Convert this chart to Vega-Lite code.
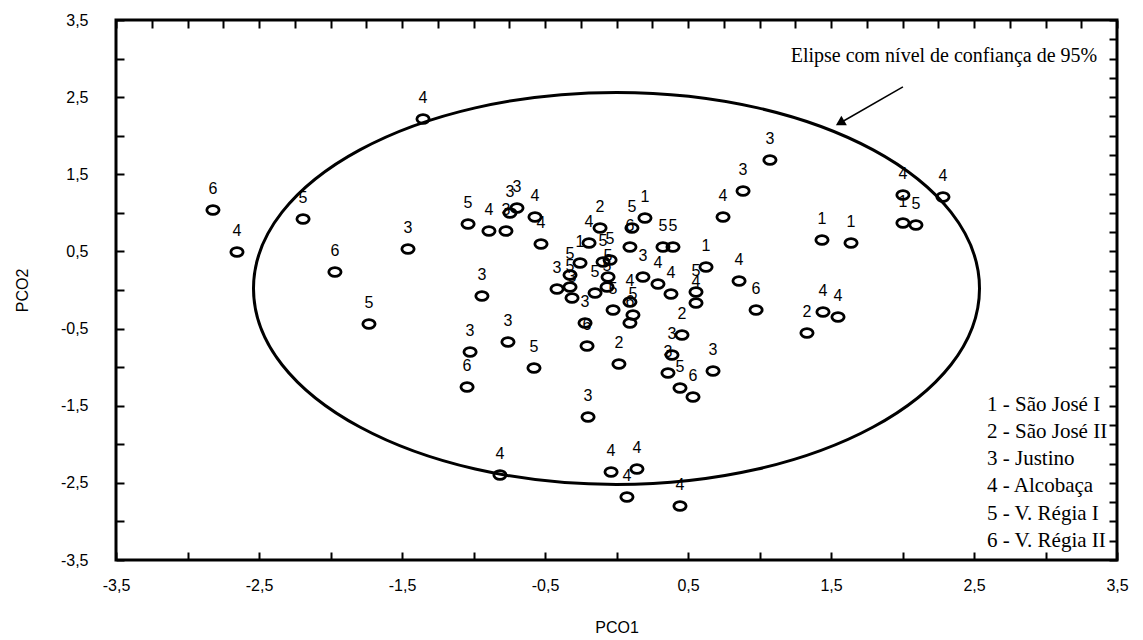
{
  "$schema": "https://vega.github.io/schema/vega-lite/v6.json",
  "width": 1001,
  "height": 540,
  "autosize": {"type": "none"},
  "padding": {"left": 116, "top": 20, "right": 26, "bottom": 80},
  "background": "white",
  "config": {
    "view": {"stroke": "black", "strokeWidth": 3},
    "axis": {
      "grid": false,
      "domain": false,
      "ticks": true,
      "zindex": 1,
      "offset": -8,
      "tickColor": "#000000",
      "tickOpacity": 1,
      "tickWidth": 2,
      "tickSize": 8,
      "labelColor": "black",
      "labelFont": "Liberation Sans",
      "labelFontSize": 16,
      "labelOverlap": false,
      "labelFlush": false,
      "titleFont": "Liberation Sans",
      "titleFontSize": 16,
      "titleFontWeight": "normal",
      "titleColor": "black"
    }
  },
  "datasets": {
    "pts": [
      {"x": -2.822, "y": 1.037, "g": "6"},
      {"x": -2.654, "y": 0.493, "g": "4"},
      {"x": -2.192, "y": 0.92, "g": "5"},
      {"x": -1.969, "y": 0.233, "g": "6"},
      {"x": -1.731, "y": -0.441, "g": "5"},
      {"x": -1.458, "y": 0.531, "g": "3"},
      {"x": -1.353, "y": 2.217, "g": "4"},
      {"x": -1.038, "y": 0.856, "g": "5"},
      {"x": -0.892, "y": 0.765, "g": "4"},
      {"x": -0.773, "y": 0.765, "g": "3"},
      {"x": -0.745, "y": 0.998, "g": "3"},
      {"x": -0.696, "y": 1.063, "g": "3"},
      {"x": -0.57, "y": 0.946, "g": "4"},
      {"x": -0.528, "y": 0.596, "g": "4"},
      {"x": -0.941, "y": -0.078, "g": "3"},
      {"x": -0.759, "y": -0.674, "g": "3"},
      {"x": -1.024, "y": -0.804, "g": "3"},
      {"x": -1.045, "y": -1.257, "g": "6"},
      {"x": -0.577, "y": -1.011, "g": "5"},
      {"x": -0.815, "y": -2.398, "g": "4"},
      {"x": -0.416, "y": 0.013, "g": "3"},
      {"x": -0.325, "y": 0.194, "g": "5"},
      {"x": -0.255, "y": 0.35, "g": "1"},
      {"x": -0.325, "y": 0.039, "g": "5"},
      {"x": -0.311, "y": -0.104, "g": "3"},
      {"x": -0.15, "y": -0.039, "g": "5"},
      {"x": -0.192, "y": 0.609, "g": "4"},
      {"x": -0.115, "y": 0.804, "g": "2"},
      {"x": -0.094, "y": 0.363, "g": "5"},
      {"x": -0.045, "y": 0.389, "g": "5"},
      {"x": -0.059, "y": 0.169, "g": "5"},
      {"x": -0.066, "y": 0.039, "g": "5"},
      {"x": -0.024, "y": -0.259, "g": "5"},
      {"x": 0.108, "y": 0.804, "g": "5"},
      {"x": 0.199, "y": 0.933, "g": "1"},
      {"x": 0.094, "y": 0.557, "g": "6"},
      {"x": 0.185, "y": 0.169, "g": "3"},
      {"x": 0.094, "y": -0.156, "g": "4"},
      {"x": 0.115, "y": -0.324, "g": "5"},
      {"x": 0.094, "y": -0.428, "g": "6"},
      {"x": 0.29, "y": 0.078, "g": "4"},
      {"x": 0.381, "y": -0.052, "g": "4"},
      {"x": 0.325, "y": 0.557, "g": "5"},
      {"x": 0.395, "y": 0.557, "g": "5"},
      {"x": 0.626, "y": 0.298, "g": "1"},
      {"x": 0.556, "y": -0.026, "g": "5"},
      {"x": 0.556, "y": -0.169, "g": "4"},
      {"x": 0.458, "y": -0.583, "g": "2"},
      {"x": 0.388, "y": -0.843, "g": "3"},
      {"x": 0.36, "y": -1.076, "g": "3"},
      {"x": 0.444, "y": -1.27, "g": "5"},
      {"x": 0.535, "y": -1.387, "g": "6"},
      {"x": 0.675, "y": -1.05, "g": "3"},
      {"x": 0.857, "y": 0.117, "g": "4"},
      {"x": 0.976, "y": -0.259, "g": "6"},
      {"x": 0.745, "y": 0.946, "g": "4"},
      {"x": 0.885, "y": 1.283, "g": "3"},
      {"x": 1.073, "y": 1.685, "g": "3"},
      {"x": -0.22, "y": -0.428, "g": "3"},
      {"x": -0.206, "y": -0.726, "g": "6"},
      {"x": 0.017, "y": -0.959, "g": "2"},
      {"x": -0.199, "y": -1.646, "g": "3"},
      {"x": -0.038, "y": -2.359, "g": "4"},
      {"x": 0.143, "y": -2.32, "g": "4"},
      {"x": 0.073, "y": -2.683, "g": "4"},
      {"x": 0.444, "y": -2.8, "g": "4"},
      {"x": 1.332, "y": -0.557, "g": "2"},
      {"x": 1.444, "y": -0.285, "g": "4"},
      {"x": 1.549, "y": -0.35, "g": "4"},
      {"x": 1.437, "y": 0.648, "g": "1"},
      {"x": 1.64, "y": 0.609, "g": "1"},
      {"x": 2.003, "y": 1.232, "g": "4"},
      {"x": 2.283, "y": 1.206, "g": "4"},
      {"x": 2.003, "y": 0.869, "g": "1"},
      {"x": 2.094, "y": 0.843, "g": "5"}
    ]
  },
  "layer": [
    {
      "layer": [
        {
          "data": {"name": "pts"},
          "mark": {
            "type": "point",
            "shape": "M-1,0C-1,-0.398,-0.552,-0.72,0,-0.72C0.552,-0.72,1,-0.398,1,0C1,0.398,0.552,0.72,0,0.72C-0.552,0.72,-1,0.398,-1,0Z",
            "filled": false,
            "strokeWidth": 2.8,
            "size": 150,
            "opacity": 1
          },
          "encoding": {
            "x": {
              "field": "x", "type": "quantitative",
              "scale": {"domain": [-3.5, 3.5], "nice": false, "zero": false},
              "axis": {
                "orient": "bottom",
                "tickCount": 28,
                "values": [-3.5, -3.25, -3, -2.75, -2.5, -2.25, -2, -1.75, -1.5, -1.25, -1, -0.75, -0.5, -0.25, 0, 0.25, 0.5, 0.75, 1, 1.25, 1.5, 1.75, 2, 2.25, 2.5, 2.75, 3, 3.25, 3.5],
                "labelExpr": "abs(round(datum.value*4)) % 4 == 2 ? replace(toString(datum.value), '.', ',') : ''",
                "labelPadding": 17,
                "title": "PCO1",
                "titlePadding": 26
              }
            },
            "y": {
              "field": "y", "type": "quantitative",
              "scale": {"domain": [-3.5, 3.5], "nice": false, "zero": false},
              "axis": {
                "orient": "left",
                "tickCount": 28,
                "values": [-3.5, -3.25, -3, -2.75, -2.5, -2.25, -2, -1.75, -1.5, -1.25, -1, -0.75, -0.5, -0.25, 0, 0.25, 0.5, 0.75, 1, 1.25, 1.5, 1.75, 2, 2.25, 2.5, 2.75, 3, 3.25, 3.5],
                "labelExpr": "abs(round(datum.value*4)) % 4 == 2 ? replace(toString(datum.value), '.', ',') : ''",
                "labelPadding": 28,
                "title": "PCO2",
                "titlePadding": 30
              }
            },
            "stroke": {
              "field": "g", "type": "nominal",
              "scale": {"domain": ["1", "2", "3", "4", "5", "6"], "range": ["black", "black", "black", "black", "black", "black"]},
              "legend": {
                "orient": "bottom-right",
                "offset": 9,
                "padding": 0,
                "title": null,
                "symbolSize": 0,
                "symbolOpacity": 0,
                "symbolStrokeWidth": 0,
                "labelOffset": 0,
                "labelFont": "Liberation Serif",
                "labelFontSize": 21,
                "labelColor": "black",
                "labelLimit": 0,
                "rowPadding": 5.3,
                "labelExpr": "datum.label == '1' ? '1 - São José I' : datum.label == '2' ? '2 - São José II' : datum.label == '3' ? '3 - Justino' : datum.label == '4' ? '4 - Alcobaça' : datum.label == '5' ? '5 - V. Régia I' : '6 - V. Régia II'"
              }
            }
          }
        },
        {
          "data": {"name": "pts"},
          "mark": {"type": "text", "dy": -21, "fontSize": 16, "font": "Liberation Sans", "color": "black"},
          "encoding": {
            "x": {"field": "x", "type": "quantitative", "scale": {"domain": [-3.5, 3.5], "nice": false, "zero": false}},
            "y": {"field": "y", "type": "quantitative", "scale": {"domain": [-3.5, 3.5], "nice": false, "zero": false}},
            "text": {"field": "g"}
          }
        },
        {
          "data": {"values": [{"x": 2.29, "y": 3.033, "t": "Elipse com nível de confiança de 95%"}]},
          "mark": {"type": "text", "font": "Liberation Serif", "fontSize": 20, "color": "black"},
          "encoding": {
            "x": {"field": "x", "type": "quantitative", "scale": {"domain": [-3.5, 3.5], "nice": false, "zero": false}},
            "y": {"field": "y", "type": "quantitative", "scale": {"domain": [-3.5, 3.5], "nice": false, "zero": false}},
            "text": {"field": "t"}
          }
        },
        {
          "data": {"values": [{"x": 2.003, "y": 2.632, "x2": 1.563, "y2": 2.165}]},
          "mark": {"type": "rule", "strokeWidth": 1.5, "color": "black"},
          "encoding": {
            "x": {"field": "x", "type": "quantitative", "scale": {"domain": [-3.5, 3.5], "nice": false, "zero": false}},
            "y": {"field": "y", "type": "quantitative", "scale": {"domain": [-3.5, 3.5], "nice": false, "zero": false}},
            "x2": {"field": "x2"},
            "y2": {"field": "y2"}
          }
        },
        {
          "data": {"values": [{"x": 1.563, "y": 2.165}]},
          "mark": {"type": "point", "shape": "triangle-up", "filled": true, "color": "black", "size": 120, "angle": 240, "opacity": 1},
          "encoding": {
            "x": {"field": "x", "type": "quantitative", "scale": {"domain": [-3.5, 3.5], "nice": false, "zero": false}},
            "y": {"field": "y", "type": "quantitative", "scale": {"domain": [-3.5, 3.5], "nice": false, "zero": false}}
          }
        }
      ]
    },
    {
      "data": {"values": [{"x": 0, "y": 0.02}]},
      "mark": {
        "type": "point",
        "shape": "M-1,0C-1,-0.298,-0.552,-0.54,0,-0.54C0.552,-0.54,1,-0.298,1,0C1,0.298,0.552,0.54,0,0.54C-0.552,0.54,-1,0.298,-1,0Z",
        "filled": false,
        "stroke": "black",
        "strokeWidth": 3,
        "size": 527076,
        "opacity": 1
      },
      "encoding": {
        "x": {
          "field": "x", "type": "quantitative",
          "scale": {"domain": [-3.5, 3.5], "nice": false, "zero": false},
          "axis": {
            "orient": "top",
            "values": [-3.5, -3.25, -3, -2.75, -2.5, -2.25, -2, -1.75, -1.5, -1.25, -1, -0.75, -0.5, -0.25, 0, 0.25, 0.5, 0.75, 1, 1.25, 1.5, 1.75, 2, 2.25, 2.5, 2.75, 3, 3.25, 3.5],
            "labels": false,
            "title": null
          }
        },
        "y": {
          "field": "y", "type": "quantitative",
          "scale": {"domain": [-3.5, 3.5], "nice": false, "zero": false},
          "axis": {
            "orient": "right",
            "values": [-3.5, -3.25, -3, -2.75, -2.5, -2.25, -2, -1.75, -1.5, -1.25, -1, -0.75, -0.5, -0.25, 0, 0.25, 0.5, 0.75, 1, 1.25, 1.5, 1.75, 2, 2.25, 2.5, 2.75, 3, 3.25, 3.5],
            "labels": false,
            "title": null
          }
        }
      }
    }
  ],
  "resolve": {"scale": {"x": "independent", "y": "independent"}}
}
